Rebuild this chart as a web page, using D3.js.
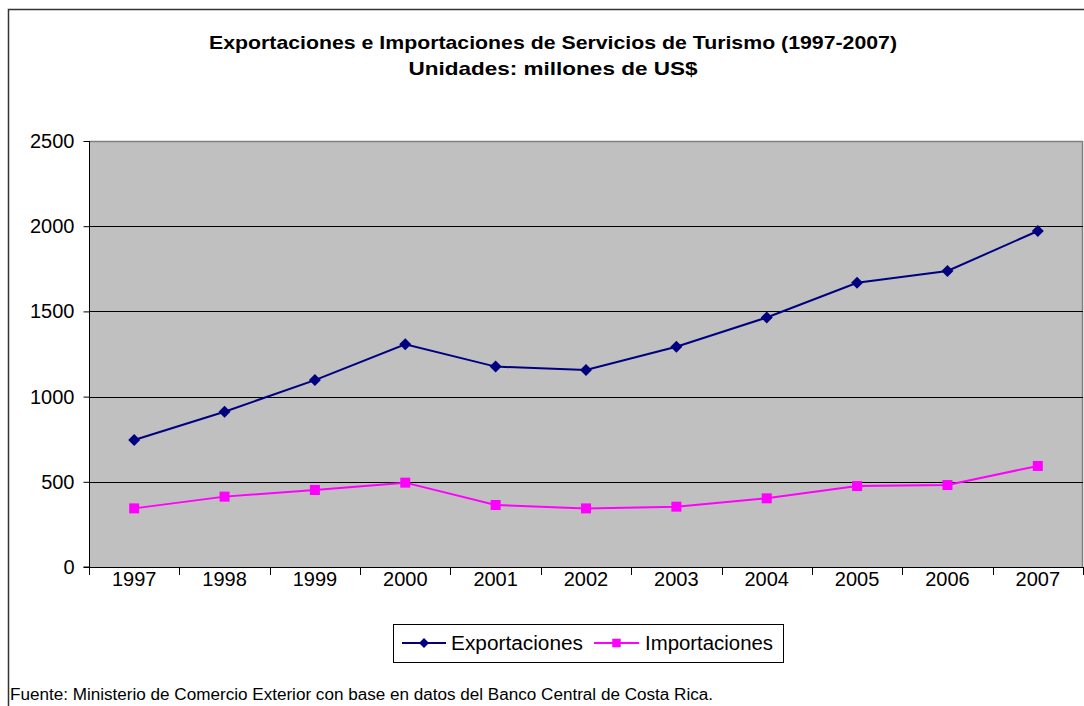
<!DOCTYPE html>
<html><head><meta charset="utf-8">
<script src="https://cdnjs.cloudflare.com/ajax/libs/d3/7.8.5/d3.min.js"></script>
<style>body{margin:0;background:#fff}svg{display:block;font-family:Arial,"Liberation Sans",sans-serif}</style>
</head><body><svg id="c" width="1084" height="706"></svg>
<script>
const years = ["1997","1998","1999","2000","2001","2002","2003","2004","2005","2006","2007"];
const exportaciones = [745, 911, 1097, 1307, 1176, 1156, 1293, 1464, 1668, 1737, 1972];
const importaciones = [344, 413, 452, 495, 364, 344, 354, 403, 475, 481, 593];
const yTicks = [0, 500, 1000, 1500, 2000, 2500];
const titleLines = ["Exportaciones e Importaciones de Servicios de Turismo (1997-2007)", "Unidades: millones de US$"];
const seriesNames = ["Exportaciones", "Importaciones"];
const footnote = "Fuente: Ministerio de Comercio Exterior con base en datos del Banco Central de Costa Rica.";

const svg = d3.select("#c");
const L = 89, R = 1083, T = 141, B = 567;

// outer chart border
svg.append("path").attr("d", "M8.5,706 V9.5 H1084").attr("fill","none").attr("stroke","#333").attr("stroke-width",1.5);

// title
svg.append("text").attr("x", 553).attr("y", 49).attr("text-anchor","middle")
  .attr("font-size", 19).attr("font-weight","bold").attr("textLength", 688).attr("lengthAdjust","spacingAndGlyphs").text(titleLines[0]);
svg.append("text").attr("x", 553).attr("y", 75).attr("text-anchor","middle")
  .attr("font-size", 19).attr("font-weight","bold").attr("textLength", 289).attr("lengthAdjust","spacingAndGlyphs").text(titleLines[1]);

const x = d3.scaleBand().domain(years).range([L, R]).paddingInner(0).paddingOuter(0);
const y = d3.scaleLinear().domain([0, 2500]).range([B, T]);

// plot background
svg.append("rect").attr("x", L).attr("y", T).attr("width", R-L).attr("height", B-T).attr("fill","#c0c0c0");
// plot border top/right
svg.append("path").attr("d", `M${L},${T+0.5} H${R-0.5} V${B}`).attr("fill","none").attr("stroke","#808080").attr("stroke-width",1.5);

// gridlines
svg.append("g").selectAll("line").data(yTicks.filter(d=>d>0 && d<2500)).join("line")
  .attr("x1", L).attr("x2", R).attr("y1", d=>Math.round(y(d))+0.5).attr("y2", d=>Math.round(y(d))+0.5)
  .attr("stroke","#000").attr("stroke-width",1);

// y axis
const yAxis = d3.axisLeft(y).tickValues(yTicks).tickSize(6).tickPadding(9).tickFormat(d3.format("d"));
const gy = svg.append("g").attr("transform", `translate(${L+0.5},0)`).call(yAxis);
gy.selectAll("text").attr("font-size", 20).attr("fill","#000").attr("font-family","Arial, 'Liberation Sans', sans-serif");
gy.selectAll("line,path").attr("stroke","#000");
gy.select(".domain").attr("d", `M-6,${B}H0V${T}`);

// x axis: ticks between categories
const boundaries = years.map(d => x(d)).concat([x(years[years.length-1]) + x.bandwidth()]);
const gx = svg.append("g");
gx.append("line").attr("x1", L).attr("x2", R).attr("y1", B+0.5).attr("y2", B+0.5).attr("stroke","#000");
gx.selectAll("line.t").data(boundaries).join("line").attr("class","t")
  .attr("x1", d=>Math.round(d)+0.5).attr("x2", d=>Math.round(d)+0.5).attr("y1", B).attr("y2", B+8).attr("stroke","#000");
gx.selectAll("text").data(years).join("text")
  .attr("x", d => x(d) + x.bandwidth()/2).attr("y", 586).attr("text-anchor","middle")
  .attr("font-size", 20).text(d=>d);

const line = d3.line().x((d,i)=>x(years[i]) + x.bandwidth()/2).y(d=>y(d));
const colors = ["#000080", "#ff00ff"];
const diamond = d3.symbol().type(d3.symbolSquare).size(72);
const square = d3.symbol().type(d3.symbolSquare).size(100);

[exportaciones, importaciones].forEach((data, si) => {
  svg.append("path").datum(data).attr("d", line).attr("fill","none").attr("stroke", colors[si]).attr("stroke-width", 2);
  svg.append("g").selectAll("path").data(data).join("path")
    .attr("d", si===0 ? diamond : square)
    .attr("transform", (d,i)=>`translate(${x(years[i]) + x.bandwidth()/2},${y(d)})` + (si===0 ? " rotate(45)" : ""))
    .attr("fill", colors[si]);
});

// legend
const lg = svg.append("g");
lg.append("rect").attr("x", 393.5).attr("y", 624.5).attr("width", 390).attr("height", 38).attr("fill","#fff").attr("stroke","#000").attr("stroke-width",1);
const legItems = [{lx1:402, lx2:446, tx:451, w:132}, {lx1:594, lx2:639, tx:645, w:128}];
legItems.forEach((it, si) => {
  lg.append("line").attr("x1", it.lx1).attr("x2", it.lx2).attr("y1", 643).attr("y2", 643).attr("stroke", colors[si]).attr("stroke-width", 2);
  lg.append("path").attr("d", si===0 ? d3.symbol().type(d3.symbolSquare).size(50)() : d3.symbol().type(d3.symbolSquare).size(72)())
    .attr("transform", `translate(${(it.lx1+it.lx2)/2},643)` + (si===0 ? " rotate(45)" : "")).attr("fill", colors[si]);
  lg.append("text").attr("x", it.tx).attr("y", 650).attr("font-size", 20).attr("textLength", it.w).attr("lengthAdjust","spacingAndGlyphs").text(seriesNames[si]);
});

// footnote
svg.append("text").attr("x", 10).attr("y", 700).attr("font-size", 16).attr("textLength", 703).attr("lengthAdjust","spacingAndGlyphs").text(footnote);
</script></body></html>
